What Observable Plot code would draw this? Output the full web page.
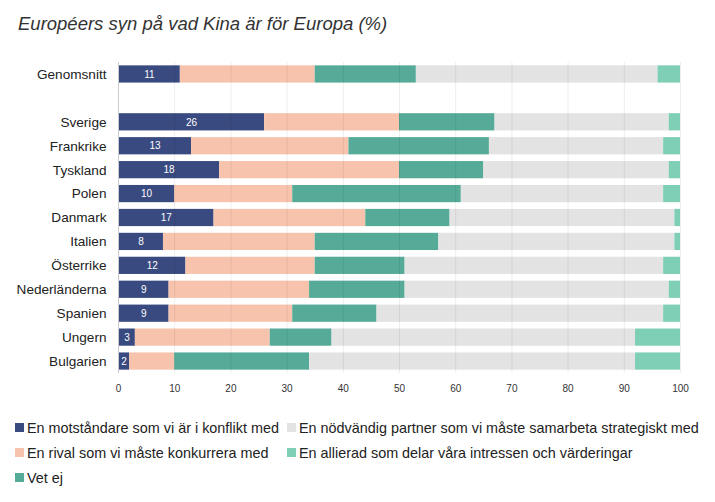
<!DOCTYPE html>
<html>
<head>
<meta charset="utf-8">
<script src="https://cdn.jsdelivr.net/npm/d3@7"></script>
<script src="https://cdn.jsdelivr.net/npm/@observablehq/plot@0.6"></script>
<style>
  html, body { margin: 0; padding: 0; background: #fff; }
  body { width: 715px; height: 502px; overflow: hidden; font-family: "Liberation Sans", Arial, sans-serif; }
  #title { position: absolute; left: 18px; top: 13px; font-size: 18.5px; font-style: italic; color: #333; }
  #chart { position: absolute; left: 0; top: 48px; }
  #legend { position: absolute; left: 15px; top: 415px; display: grid; grid-template-rows: repeat(3, 25px); grid-auto-flow: column; column-gap: 8px; font-size: 14.4px; color: #222; }
  .item { display: flex; align-items: center; white-space: nowrap; }
  .sw { width: 9px; height: 9px; margin-right: 3px; display: inline-block; }
</style>
</head>
<body>
<div id="title">Européers syn på vad Kina är för Europa (%)</div>
<div id="chart"></div>
<div id="legend"></div>
<script>
const countries = ["Genomsnitt", " ", "Sverige", "Frankrike", "Tyskland", "Polen", "Danmark", "Italien", "Österrike", "Nederländerna", "Spanien", "Ungern", "Bulgarien"];
const seriesNames = [
  "En motståndare som vi är i konflikt med",
  "En rival som vi måste konkurrera med",
  "Vet ej",
  "En nödvändig partner som vi måste samarbeta strategiskt med",
  "En allierad som delar våra intressen och värderingar"
];
const seriesColors = ["#394a80", "#f7c3ad", "#55ab98", "#e3e3e3", "#7ecfb5"];
const motstandare = [11, null, 26, 13, 18, 10, 17, 8, 12, 9, 9, 3, 2];
const rival       = [24, null, 24, 28, 32, 21, 27, 27, 23, 25, 22, 24, 8];
const vetEj       = [18, null, 17, 25, 15, 30, 15, 22, 16, 17, 15, 11, 24];
const partner     = [43, null, 31, 31, 33, 36, 40, 42, 46, 47, 51, 54, 58];
const allierad    = [4,  null, 2,  3,  2,  3,  1,  1,  3,  2,  3,  8,  8];
const xTicks = [0, 10, 20, 30, 40, 50, 60, 70, 80, 90, 100];

const seriesValues = [motstandare, rival, vetEj, partner, allierad];
const rows = [];
countries.forEach((c, i) => {
  seriesValues.forEach((vals, s) => {
    if (vals[i] != null) rows.push({country: c, series: seriesNames[s], value: vals[i]});
  });
});
const labelRows = countries.map((c, i) => ({country: c, value: motstandare[i]})).filter(d => d.value != null);

const chart = Plot.plot({
  width: 715,
  height: 352,
  marginLeft: 118,
  marginRight: 35,
  marginTop: 14,
  marginBottom: 27,
  style: {fontFamily: "Liberation Sans, Arial, sans-serif", color: "#222", background: "#fff"},
  x: {domain: [0, 100], ticks: xTicks, label: null},
  y: {domain: countries, label: null, paddingInner: 0.28, paddingOuter: 0.14, round: false},
  color: {domain: seriesNames, range: seriesColors},
  marks: [
    Plot.barX(rows, Plot.stackX({x: "value", y: "country", fill: "series"})),
    Plot.ruleX(xTicks, {stroke: "#000", strokeOpacity: 0.07}),
    Plot.ruleX([0], {stroke: "#ccc"}),
    Plot.text(labelRows, {x: d => d.value / 2, y: "country", text: d => String(d.value), fill: "white", fontSize: 10}),
    Plot.axisX({ticks: xTicks, tickSize: 0, tickPadding: 11, fontSize: 10, fill: "#333", label: null}),
    Plot.axisY({tickSize: 0, tickPadding: 12, fontSize: 13.6, fill: "#222", label: null})
  ]
});
document.getElementById("chart").appendChild(chart);

const legendOrder = [0, 1, 2, 3, 4];
const legend = document.getElementById("legend");
legendOrder.forEach(i => {
  const it = document.createElement("div");
  it.className = "item";
  it.innerHTML = `<span class="sw" style="background:${seriesColors[i]}"></span><span>${seriesNames[i]}</span>`;
  legend.appendChild(it);
});
</script>
</body>
</html>
